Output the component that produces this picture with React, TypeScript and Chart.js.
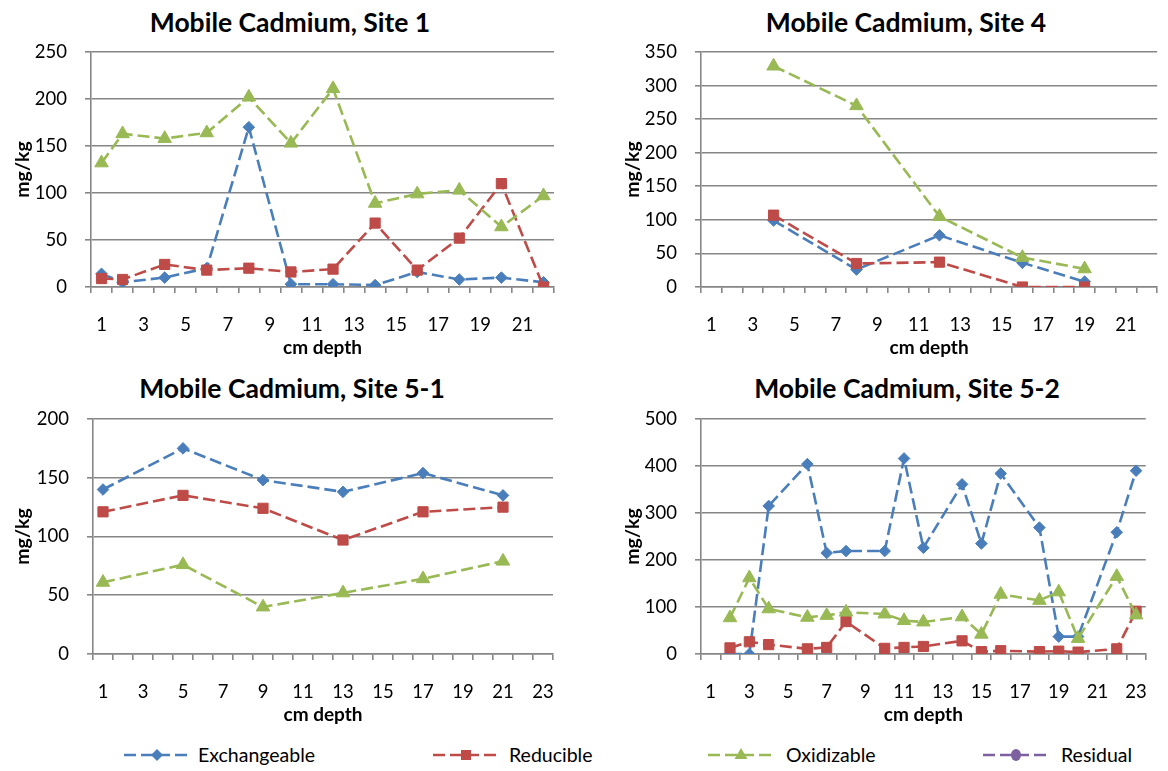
import React, { useEffect, useRef } from "react";
import { Chart, registerables } from "chart.js";

Chart.register(...registerables);

const FONT = "Lato, 'Open Sans', 'DejaVu Sans', sans-serif";
const GRID = "#868686";
const BLUE = "#4A7EBB";
const RED = "#BE4B48";
const GREEN = "#98B954";
const PURPLE = "#7D60A0";

const legendNames = ["Exchangeable", "Reducible", "Oxidizable", "Residual"];

const labels22 = ["1", "2", "3", "4", "5", "6", "7", "8", "9", "10", "11", "12", "13", "14", "15", "16", "17", "18", "19", "20", "21", "22"];
const labels23 = ["1", "2", "3", "4", "5", "6", "7", "8", "9", "10", "11", "12", "13", "14", "15", "16", "17", "18", "19", "20", "21", "22", "23"];

// Site 1
const site1Depths = [1, 2, 4, 6, 8, 10, 12, 14, 16, 18, 20, 22];
const site1Exchangeable = [14, 5, 10, 20, 170, 3, 3, 2, 16, 8, 10, 5];
const site1Reducible = [9, 8, 24, 18, 20, 16, 19, 68, 18, 52, 110, 0];
const site1Oxidizable = [132, 163, 158, 164, 202, 153, 211, 89, 99, 103, 64, 97];

// Site 4
const site4Depths = [4, 8, 12, 16, 19];
const site4Exchangeable = [99, 26, 77, 36, 8];
const site4Reducible = [107, 35, 37, 0, 0];
const site4Oxidizable = [329, 270, 105, 44, 27];

// Site 5-1
const site51Depths = [1, 5, 9, 13, 17, 21];
const site51Exchangeable = [140, 175, 148, 138, 154, 135];
const site51Reducible = [121, 135, 124, 97, 121, 125];
const site51Oxidizable = [61, 76, 40, 52, 64, 79];

// Site 5-2
const site52Depths = [2, 3, 4, 6, 7, 8, 10, 11, 12, 14, 15, 16, 18, 19, 20, 22, 23];
const site52Exchangeable = [0, 0, 315, 404, 215, 219, 219, 416, 226, 361, 235, 384, 269, 37, 37, 259, 390];
const site52Reducible = [13, 26, 20, 11, 14, 69, 12, 14, 16, 28, 5, 7, 5, 6, 4, 11, 91];
const site52Oxidizable = [77, 162, 96, 78, 82, 89, 85, 71, 68, 79, 42, 127, 114, 132, 33, 165, 83];

type PanelProps = {
  title: string;
  labels: string[];
  depths: number[];
  exch: number[];
  red: number[];
  ox: number[];
  yMax: number;
  yStep: number;
  x: number;
  y: number;
  w: number;
  h: number;
  padTop: number;
  padRight: number;
  yAxisWidth: number;
  xAxisHeight: number;
  yTitlePad: number;
  xTitlePad: number;
  titleCX: number;
  titleCY: number;
};

function pts(depths: number[], vals: number[]) {
  return depths.map((d, i) => ({ x: String(d), y: vals[i] }));
}

function Panel(p: PanelProps) {
  const ref = useRef<HTMLCanvasElement>(null);
  useEffect(() => {
    const line = (label: string, color: string, data: any, style: string, radius: number, order: number) => ({
      label,
      data,
      borderColor: color,
      backgroundColor: color,
      pointBackgroundColor: color,
      pointBorderColor: color,
      pointBorderWidth: 1,
      pointStyle: style,
      pointRadius: radius,
      borderWidth: 2.6,
      borderDash: [12, 5],
      tension: 0,
      fill: false,
      order,
    });
    const chart = new Chart(ref.current as HTMLCanvasElement, {
      type: "line",
      data: {
        labels: p.labels,
        datasets: [
          line(legendNames[0], BLUE, pts(p.depths, p.exch), "rectRot", 5.8, 3),
          line(legendNames[1], RED, pts(p.depths, p.red), "rect", 7.2, 2),
          line(legendNames[2], GREEN, pts(p.depths, p.ox), "triangle", 7.8, 1),
        ],
      },
      options: {
        responsive: false,
        maintainAspectRatio: false,
        animation: false,
        layout: { padding: { top: p.padTop, right: p.padRight, left: 0, bottom: 0 } },
        plugins: {
          legend: { display: false },
          tooltip: { enabled: false },
          title: { display: false },
        },
        scales: {
          x: {
            type: "category",
            offset: true,
            grid: {
              offset: true,
              drawOnChartArea: false,
              drawTicks: true,
              tickLength: 6,
              color: GRID,
              lineWidth: 1.6,
            },
            border: { display: true, color: GRID, width: 1.6 },
            ticks: {
              autoSkip: false,
              maxRotation: 0,
              minRotation: 0,
              padding: 21,
              color: "#000",
              font: { family: FONT, size: 18.5 },
              callback: (_v: any, i: number) => (i % 2 === 0 ? p.labels[i] : ""),
            },
            title: {
              display: true,
              text: "cm depth",
              color: "#000",
              font: { family: FONT, size: 19, weight: "bold" },
              padding: { top: 0, bottom: p.xTitlePad },
            },
            afterFit: (s: any) => {
              s.height = p.xAxisHeight;
            },
          },
          y: {
            min: 0,
            max: p.yMax,
            ticks: {
              stepSize: p.yStep,
              padding: 18,
              color: "#000",
              font: { family: FONT, size: 18.5 },
            },
            grid: { color: GRID, lineWidth: 1.6, tickLength: 6, drawTicks: true },
            border: { display: true, color: GRID, width: 1.6 },
            title: {
              display: true,
              text: "mg/kg",
              color: "#000",
              font: { family: FONT, size: 19.5, weight: "bold" },
              padding: { top: p.yTitlePad, bottom: 0 },
            },
            afterFit: (s: any) => {
              s.width = p.yAxisWidth;
            },
          },
        },
      } as any,
    });
    return () => chart.destroy();
  }, []);
  return (
    <>
      <div
        style={{
          position: "absolute",
          left: p.titleCX - 250,
          top: p.titleCY - 16,
          width: 500,
          height: 32,
          lineHeight: "32px",
          textAlign: "center",
          font: `bold 26.5px ${FONT}`,
          color: "#000",
          whiteSpace: "nowrap",
        }}
      >
        {p.title}
      </div>
      <canvas
        ref={ref}
        width={p.w}
        height={p.h}
        style={{ position: "absolute", left: p.x, top: p.y, width: p.w, height: p.h }}
      />
    </>
  );
}

function Marker({ kind, color }: { kind: string; color: string }) {
  if (kind === "diamond") return <polygon points="33,4 39,10 33,16 27,10" fill={color} />;
  if (kind === "square") return <rect x={28} y={5} width={10} height={10} fill={color} />;
  if (kind === "triangle") return <polygon points="33,3 39.5,14 26.5,14" fill={color} />;
  return <ellipse cx={33} cy={10} rx={5} ry={6} fill={color} />;
}

const legendItems = [
  { name: legendNames[0], color: BLUE, kind: "diamond", iconX: 124, textX: 198 },
  { name: legendNames[1], color: RED, kind: "square", iconX: 433, textX: 509 },
  { name: legendNames[2], color: GREEN, kind: "triangle", iconX: 708, textX: 786 },
  { name: legendNames[3], color: PURPLE, kind: "circle", iconX: 983, textX: 1061 },
];

export default function App() {
  return (
    <div style={{ position: "absolute", left: 0, top: 0, width: 1168, height: 771, background: "#fff", overflow: "hidden" }}>
      <Panel
        title="Mobile Cadmium, Site 1"
        labels={labels22}
        depths={site1Depths}
        exch={site1Exchangeable}
        red={site1Reducible}
        ox={site1Oxidizable}
        yMax={250}
        yStep={50}
        x={0}
        y={0}
        w={580}
        h={365}
        padTop={52}
        padRight={26}
        yAxisWidth={91}
        xAxisHeight={78}
        yTitlePad={10.6}
        xTitlePad={6}
        titleCX={290}
        titleCY={22}
      />
      <Panel
        title="Mobile Cadmium, Site 4"
        labels={labels22}
        depths={site4Depths}
        exch={site4Exchangeable}
        red={site4Reducible}
        ox={site4Oxidizable}
        yMax={350}
        yStep={50}
        x={580}
        y={0}
        w={588}
        h={365}
        padTop={52}
        padRight={2}
        yAxisWidth={121}
        xAxisHeight={78}
        yTitlePad={40.6}
        xTitlePad={6}
        titleCX={906}
        titleCY={22}
      />
      <Panel
        title="Mobile Cadmium, Site 5-1"
        labels={labels23}
        depths={site51Depths}
        exch={site51Exchangeable}
        red={site51Reducible}
        ox={site51Oxidizable}
        yMax={200}
        yStep={50}
        x={0}
        y={366}
        w={580}
        h={365}
        padTop={53}
        padRight={27}
        yAxisWidth={93}
        xAxisHeight={77}
        yTitlePad={10.6}
        xTitlePad={5}
        titleCX={292}
        titleCY={388}
      />
      <Panel
        title="Mobile Cadmium, Site 5-2"
        labels={labels23}
        depths={site52Depths}
        exch={site52Exchangeable}
        red={site52Reducible}
        ox={site52Oxidizable}
        yMax={500}
        yStep={100}
        x={580}
        y={366}
        w={588}
        h={365}
        padTop={53}
        padRight={2}
        yAxisWidth={121}
        xAxisHeight={77}
        yTitlePad={40.6}
        xTitlePad={5}
        titleCX={907}
        titleCY={388}
      />
      {legendItems.map((it) => (
        <React.Fragment key={it.name}>
          <svg
            width={68}
            height={20}
            style={{ position: "absolute", left: it.iconX, top: 745 }}
          >
            <line x1={0} y1={10} x2={66} y2={10} stroke={it.color} strokeWidth={2.5} strokeDasharray="12 5" />
            <Marker kind={it.kind} color={it.color} />
          </svg>
          <div
            style={{
              position: "absolute",
              left: it.textX,
              top: 743,
              height: 24,
              lineHeight: "24px",
              font: `19.5px ${FONT}`,
              color: "#000",
              whiteSpace: "nowrap",
            }}
          >
            {it.name}
          </div>
        </React.Fragment>
      ))}
    </div>
  );
}
